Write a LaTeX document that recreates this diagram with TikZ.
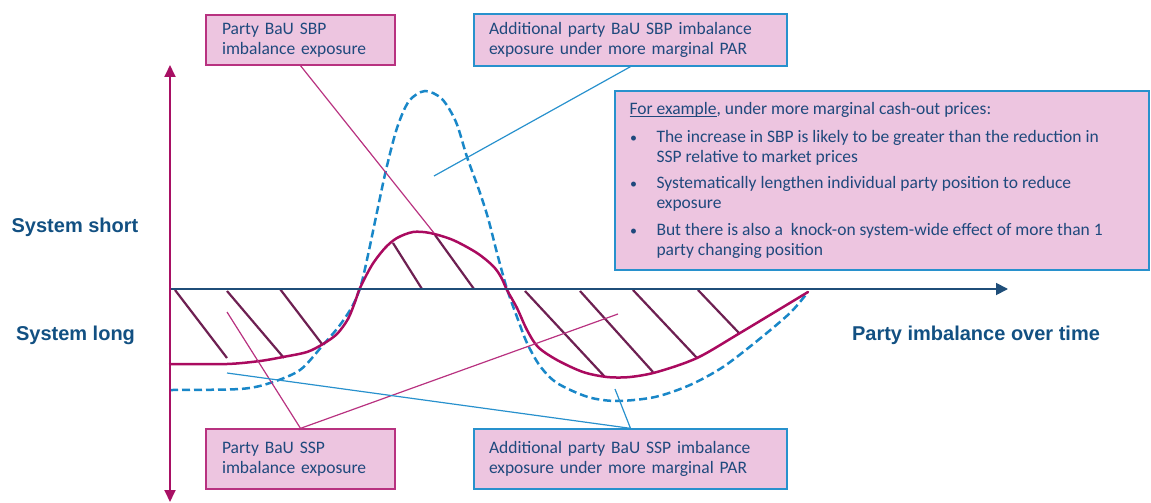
\documentclass[tikz,border=0pt]{standalone}
\usepackage{fontspec}
\setmainfont{Carlito}
\newfontfamily\labelfont{Liberation Sans}
\usetikzlibrary{arrows.meta}

\definecolor{boxfill}{RGB}{237,197,224}
\definecolor{magborder}{RGB}{184,50,128}
\definecolor{blueborder}{RGB}{40,145,205}
\definecolor{txtnavy}{RGB}{31,73,125}
\definecolor{lblblue}{RGB}{18,80,130}
\definecolor{axismag}{RGB}{168,16,100}
\definecolor{curvemag}{RGB}{170,10,95}
\definecolor{hatchcol}{RGB}{110,32,82}
\definecolor{dashblue}{RGB}{25,135,200}
\definecolor{axisnavy}{RGB}{31,78,121}

% underline that sits just below the baseline
\newcommand\ulbase[1]{\leavevmode\setbox0\hbox{#1}\rlap{\rule[-2.2pt]{\wd0}{0.9pt}}\box0}
% small list bullet in a fixed-width hanging slot
\newcommand\notebullet{\makebox[27pt][l]{\hspace{0.5pt}{\fontsize{14}{14}\selectfont•}}}

\tikzset{
  callout/.style={draw, line width=1.3pt, fill=boxfill, text=txtnavy,
    font=\fontsize{17.5}{20}\selectfont, align=left,
    inner xsep=0pt, inner ysep=0pt},
  magbox/.style={callout, draw=magborder},
  bluebox/.style={callout, draw=blueborder},
  axislabel/.style={font=\labelfont\bfseries\fontsize{20}{24}\selectfont,
    text=lblblue, anchor=base},
  bau/.style={curvemag, line width=2.5pt, line cap=round},
  marginal/.style={dashblue, line width=2.5pt, dash pattern=on 8pt off 4pt},
  hatchline/.style={hatchcol, line width=2.2pt},
  magpointer/.style={draw=magborder, line width=1.2pt},
  bluepointer/.style={draw=blueborder, line width=1.2pt},
}

\begin{document}
\begin{tikzpicture}[x=1pt, y=-1pt]
\useasboundingbox (0,0) rectangle (1151,503);

% hatched exposure areas
\draw[hatchline] (175,290) -- (227,358);
\draw[hatchline] (227,291) -- (284,358);
\draw[hatchline] (280,289) -- (322,344);
\draw[hatchline] (393,243) -- (422,289);
\draw[hatchline] (435,235) -- (474,289);
\draw[hatchline] (525,291) -- (605,377);
\draw[hatchline] (580,291) -- (653,372);
\draw[hatchline] (633,290) -- (697,358);
\draw[hatchline] (698,290) -- (739,333);

% marginal PAR imbalance profile
\draw[marginal] plot[smooth, tension=0.5] coordinates {
  (170,390) (240,389) (270,383) (300,370) (323,345) (340,325) (353,305)
  (361,285) (368,255) (377,212) (386,170) (397,128) (409,101) (425,91)
  (442,99) (456,122) (467,157) (479,190) (488,218) (497,253) (507,289)
  (517,317) (527,343) (540,366) (557,383) (588,397) (617,401) (655,397)
  (690,385) (723,367) (757,341) (790,313) (808,292)};

% business-as-usual imbalance profile
\draw[bau] plot[smooth, tension=0.5] coordinates {
  (170,364) (227,364) (260,361) (283,357) (307,352) (323,344) (337,334)
  (348,319) (355,302) (360,288) (372,265) (385,248) (397,238) (413,232)
  (430,233) (453,240) (477,253) (493,266) (501,277) (507,290) (517,308)
  (527,330) (538,347) (557,360) (583,372) (607,377) (630,377) (657,372)
  (697,358) (740,333) (808,292)};

% axes
\draw[axisnavy, line width=1.8pt, -{Triangle[width=12pt,length=12pt]}]
  (170,289) -- (1008,289);
\draw[axismag, line width=1.8pt,
  {Triangle[width=11pt,length=12pt]}-{Triangle[width=11pt,length=12pt]}]
  (170,65) -- (170,502);

\node[axislabel] (short) at (75,232) {System short};
\node[axislabel] (long) at (75.5,340) {System long};
\node[axislabel] (time) at (976,340.5) {Party imbalance over time};

% callout targets
\coordinate (sbpTip) at (434,233);
\coordinate (addSbpTip) at (434,176);
\coordinate (sspTipA) at (227,312);
\coordinate (sspTipB) at (618,314);
\coordinate (addSspTipA) at (227,373);
\coordinate (addSspTipB) at (615,389);

% callout boxes
\node[magbox, minimum width=189pt, minimum height=50pt, text width=157pt]
  (sbp) at (300.5,40) {Party BaU SBP\\imbalance exposure};
\node[bluebox, minimum width=313pt, minimum height=52pt, text width=283pt]
  (addsbp) at (630.5,40) {Additional party BaU SBP imbalance\\exposure under more marginal PAR};
\node[magbox, minimum width=189pt, minimum height=60pt, text width=157pt]
  (ssp) at (300.5,459) {Party BaU SSP\\imbalance exposure};
\node[bluebox, minimum width=313pt, minimum height=60pt, text width=283pt]
  (addssp) at (630.5,459) {Additional party BaU SSP imbalance\\exposure under more marginal PAR};

\draw[magpointer] (sbp.south) -- (sbpTip);
\draw[bluepointer] (addsbp.south) -- (addSbpTip);
\draw[magpointer] (sspTipA) -- (ssp.north) -- (sspTipB);
\draw[bluepointer] (addSspTipA) -- (addssp.north) -- (addSspTipB);

% example notes
\node[bluebox, minimum width=534pt, minimum height=179pt] (example) at (882,180.5) {%
  \begin{minipage}{505pt}
  \setlength{\parindent}{0pt}\setlength{\parskip}{0pt}%
  \ulbase{For example}, under more marginal cash-out prices:\par\vspace{7.5pt}
  \hangindent=27pt\hangafter=1
  \notebullet The increase in SBP is likely to be greater than the reduction in\\
  SSP relative to market prices\par\vspace{6.5pt}
  \hangindent=27pt\hangafter=1
  \notebullet Systematically lengthen individual party position to reduce\\
  exposure\par\vspace{7pt}
  \hangindent=27pt\hangafter=1
  \notebullet But there is also a\ \ knock-on system-wide effect of more than 1\\
  party changing position\par
  \end{minipage}};
\end{tikzpicture}
\end{document}
